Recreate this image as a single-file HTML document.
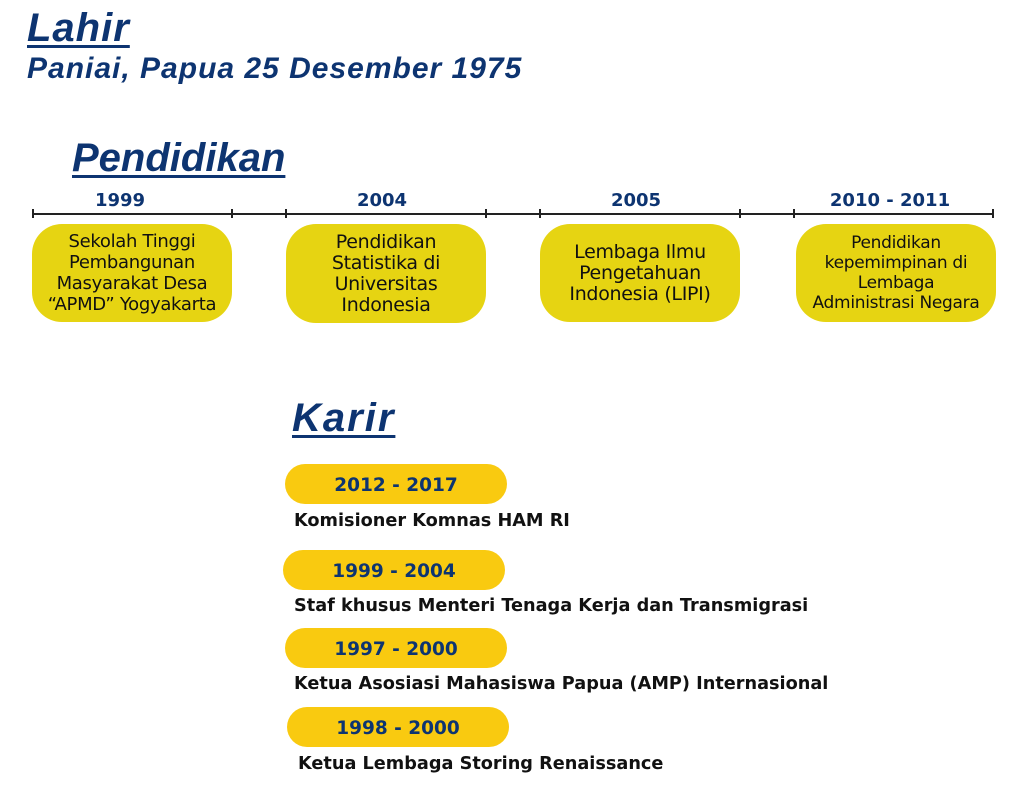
<!DOCTYPE html>
<html><head><style>
body{margin:0;width:1024px;height:797px;background:#fff;position:relative;font-family:"DejaVu Sans",sans-serif;overflow:hidden}
.a{position:absolute}
.h{font-family:"Liberation Sans",sans-serif;color:#0d3471;font-weight:bold;font-style:italic;text-decoration:underline;text-decoration-thickness:3px;text-underline-offset:4px}
.yr{position:absolute;color:#0d3471;font-weight:bold;font-size:18px;text-align:center;width:200px}
.ln{position:absolute;height:2px;background:#222;top:213px}
.tk{position:absolute;width:2px;height:9px;background:#222;top:209px}
.bx{position:absolute;width:200px;background:#e6d412;border-radius:30px;display:flex;align-items:center;justify-content:center;text-align:center;font-size:18px;line-height:21px;color:#111;top:224px;height:98px;letter-spacing:-0.3px}
.pill{position:absolute;width:222px;height:40px;background:#f9ca10;border-radius:20px;color:#0d3471;font-weight:bold;font-size:18.5px;text-align:center;line-height:44px}
.kt{position:absolute;font-weight:bold;font-size:17.7px;color:#111}
</style></head><body>
<div class="a h" style="left:27px;top:6px;font-size:40px;letter-spacing:1px">Lahir</div>
<div class="a" style="left:27px;top:52px;font-size:30px;color:#0d3471;font-weight:bold;font-style:italic;font-family:'Liberation Sans',sans-serif;letter-spacing:1px">Paniai, Papua 25 Desember 1975</div>
<div class="a h" style="left:72px;top:136px;font-size:40px;">Pendidikan</div>

<div class="yr" style="left:20px;top:190px">1999</div>
<div class="yr" style="left:282px;top:190px">2004</div>
<div class="yr" style="left:536px;top:190px">2005</div>
<div class="yr" style="left:790px;top:190px">2010 - 2011</div>

<div class="ln" style="left:32px;width:962px"></div>
<div class="tk" style="left:32px"></div><div class="tk" style="left:231px"></div>
<div class="tk" style="left:285px"></div><div class="tk" style="left:485px"></div>
<div class="tk" style="left:539px"></div><div class="tk" style="left:739px"></div>
<div class="tk" style="left:793px"></div><div class="tk" style="left:992px"></div>

<div class="bx" style="left:32px">Sekolah Tinggi<br>Pembangunan<br>Masyarakat Desa<br>“APMD” Yogyakarta</div>
<div class="bx" style="left:286px;height:99px;font-size:19px">Pendidikan<br>Statistika di<br>Universitas<br>Indonesia</div>
<div class="bx" style="left:540px;font-size:19px">Lembaga Ilmu<br>Pengetahuan<br>Indonesia (LIPI)</div>
<div class="bx" style="left:796px;font-size:17px;line-height:20px">Pendidikan<br>kepemimpinan di<br>Lembaga<br>Administrasi Negara</div>

<div class="a h" style="left:292px;top:396px;font-size:40px;letter-spacing:2px">Karir</div>
<div class="pill" style="left:285px;top:464px">2012 - 2017</div>
<div class="kt" style="left:294px;top:511px">Komisioner Komnas HAM RI</div>
<div class="pill" style="left:283px;top:550px">1999 - 2004</div>
<div class="kt" style="left:294px;top:596px">Staf khusus Menteri Tenaga Kerja dan Transmigrasi</div>
<div class="pill" style="left:285px;top:628px">1997 - 2000</div>
<div class="kt" style="left:294px;top:674px">Ketua Asosiasi Mahasiswa Papua (AMP) Internasional</div>
<div class="pill" style="left:287px;top:707px">1998 - 2000</div>
<div class="kt" style="left:298px;top:754px">Ketua Lembaga Storing Renaissance</div>
</body></html>
